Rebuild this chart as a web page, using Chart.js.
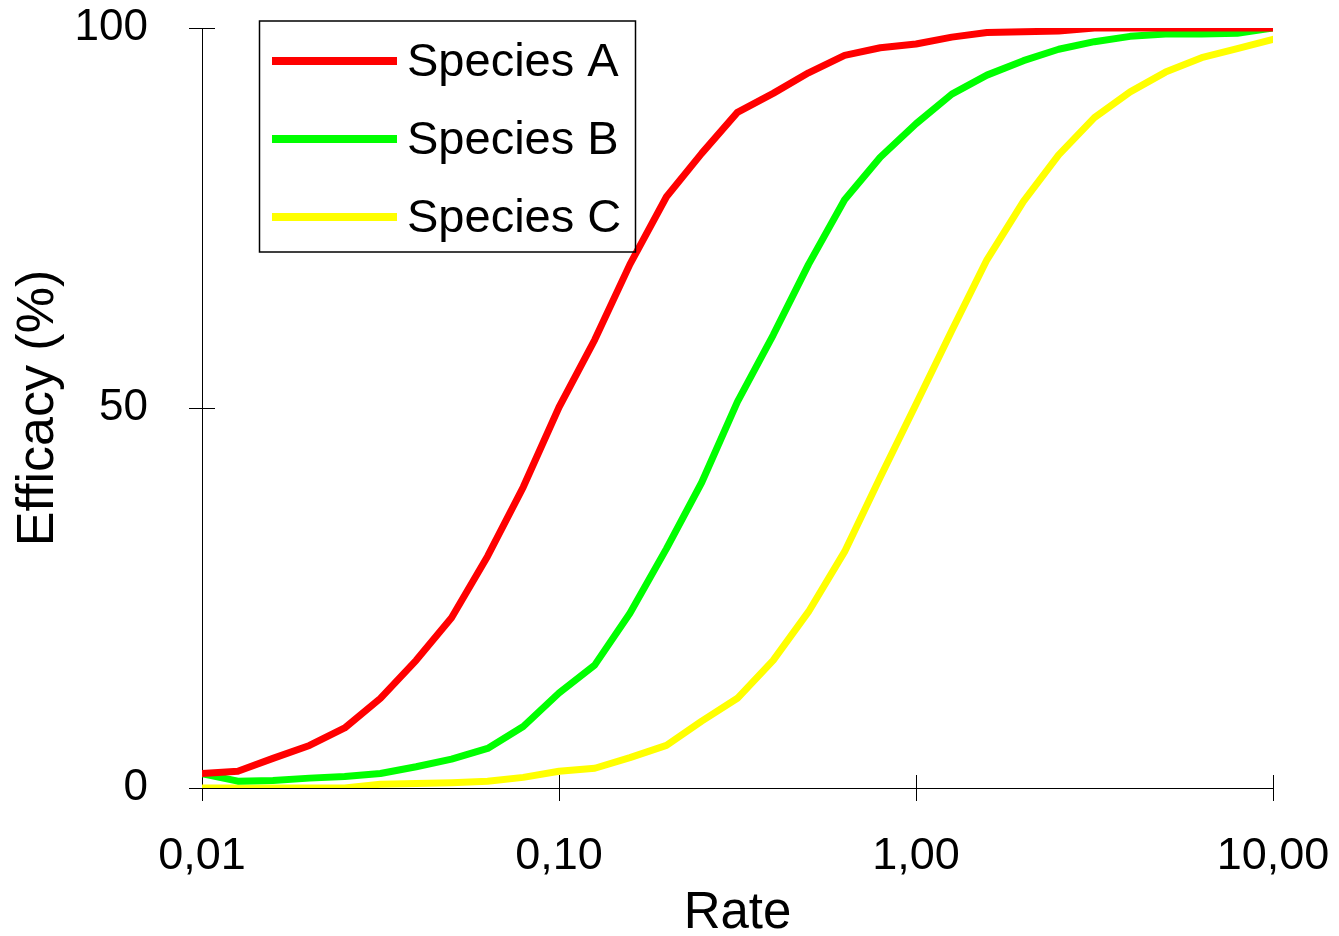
<!DOCTYPE html>
<html>
<head>
<meta charset="utf-8">
<script src="https://cdn.jsdelivr.net/npm/chart.js@4/dist/chart.umd.min.js"></script>
<style>
  html, body { margin: 0; padding: 0; background: #fff; }
  #wrap { width: 1339px; height: 936px; }
</style>
</head>
<body>
<div id="wrap"><canvas id="efficacy-chart" width="1339" height="936"></canvas></div>
<script>
// rate values (log axis)
var rates = [0.01, 0.0126, 0.0158, 0.02, 0.0251, 0.0316, 0.0398, 0.05, 0.0631, 0.0794,
	0.1, 0.126, 0.158, 0.2, 0.251, 0.316, 0.398, 0.5, 0.631, 0.794,
	1, 1.26, 1.58, 2, 2.51, 3.16, 3.98, 5, 6.31, 7.94, 10];

var speciesA = [1.9, 2.2, 3.9, 5.6, 7.9, 11.8, 16.8, 22.4, 30.5, 39.6,
	50.1, 59.0, 68.9, 77.8, 83.5, 88.9, 91.4, 94.1, 96.4, 97.4,
	97.9, 98.8, 99.4, 99.5, 99.6, 100, 100, 100, 100, 100, 100];

var speciesB = [1.9, 0.9, 1.0, 1.3, 1.5, 1.9, 2.8, 3.8, 5.2, 8.1,
	12.5, 16.2, 23.0, 31.5, 40.2, 50.8, 59.6, 68.9, 77.4, 83.0,
	87.4, 91.3, 93.8, 95.7, 97.2, 98.2, 98.9, 99.2, 99.2, 99.3, 100];

var speciesC = [0, 0, 0, 0, 0, 0.5, 0.6, 0.7, 0.9, 1.4,
	2.2, 2.6, 4.0, 5.6, 8.8, 11.8, 16.8, 23.2, 31.1, 40.9,
	50.5, 60.2, 69.5, 77.2, 83.3, 88.2, 91.6, 94.2, 96.1, 97.3, 98.5];

var seriesNames = ["Species A", "Species B", "Species C"];
var seriesColors = ["#ff0000", "#00ff00", "#ffff00"];

var xTicks = [0.01, 0.1, 1, 10];
var xTickLabels = ["0,01", "0,10", "1,00", "10,00"];
var yTicks = [0, 50, 100];
var yTickLabels = ["0", "50", "100"];

var FONT = "'Liberation Sans', Arial, sans-serif";

function points(values) {
	return rates.map(function(r, i) { return { x: r, y: values[i] }; });
}

// excel style "cross" tick marks, half outside and half inside the plot
var crossTicks = {
	id: "crossTicks",
	beforeDatasetsDraw: function(chart) {
		var ctx = chart.ctx, area = chart.chartArea;
		var xs = chart.scales.x, ys = chart.scales.y;
		ctx.save();
		ctx.strokeStyle = "#000";
		ctx.lineWidth = 1;
		ctx.beginPath();
		xTicks.forEach(function(v) {
			var px = Math.round(xs.getPixelForValue(v)) + 0.5;
			ctx.moveTo(px, area.bottom + 13);
			ctx.lineTo(px, area.bottom - 13);
		});
		yTicks.forEach(function(v) {
			var py = Math.round(ys.getPixelForValue(v)) + 0.5;
			ctx.moveTo(area.left - 13, py);
			ctx.lineTo(area.left + 13, py);
		});
		ctx.stroke();
		ctx.restore();
	}
};

// boxed legend in the upper left of the plot
var boxLegend = {
	id: "boxLegend",
	afterDraw: function(chart) {
		var ctx = chart.ctx;
		ctx.save();
		ctx.strokeStyle = "#000";
		ctx.lineWidth = 1.5;
		ctx.strokeRect(259.5, 21, 376, 231);
		ctx.font = "47px " + FONT;
		ctx.textBaseline = "middle";
		ctx.fillStyle = "#000";
		chart.data.datasets.forEach(function(ds, i) {
			var y = 61 + i * 78;
			ctx.strokeStyle = ds.borderColor;
			ctx.lineWidth = 8;
			ctx.beginPath();
			ctx.moveTo(272, y);
			ctx.lineTo(397, y);
			ctx.stroke();
			ctx.fillText(ds.label, 407, y + 2);
		});
		ctx.restore();
	}
};

try {
	new Chart(document.getElementById("efficacy-chart"), {
		type: "line",
		data: {
			datasets: [
				{ label: seriesNames[0], data: points(speciesA), borderColor: seriesColors[0] },
				{ label: seriesNames[1], data: points(speciesB), borderColor: seriesColors[1] },
				{ label: seriesNames[2], data: points(speciesC), borderColor: seriesColors[2] }
			]
		},
		options: {
			responsive: false,
			animation: false,
			layout: { padding: { top: 28, right: 66, left: 0, bottom: 0 } },
			elements: {
				line: { borderWidth: 7, tension: 0, fill: false, borderCapStyle: "round", borderJoinStyle: "round" },
				point: { radius: 0 }
			},
			plugins: {
				legend: { display: false },
				tooltip: { enabled: false }
			},
			scales: {
				x: {
					type: "logarithmic",
					min: 0.01,
					max: 10,
					afterBuildTicks: function(s) {
						s.ticks = xTicks.map(function(v) { return { value: v }; });
					},
					afterFit: function(s) { s.height = 148; },
					// tick marks come from crossTicks, the grid only spaces the labels
					grid: { drawOnChartArea: false, drawTicks: true, tickLength: 42, color: "rgba(0,0,0,0)" },
					border: { display: true, color: "#000", width: 1 },
					ticks: {
						padding: 0,
						maxRotation: 0,
						autoSkip: false,
						color: "#000",
						font: { family: FONT, size: 45 },
						callback: function(v) {
							var i = xTicks.indexOf(v);
							return i >= 0 ? xTickLabels[i] : "";
						}
					},
					title: {
						display: true,
						text: "Rate",
						color: "#000",
						font: { family: FONT, size: 51, lineHeight: 0.85 },
						padding: { top: 0, bottom: 0 }
					}
				},
				y: {
					min: 0,
					max: 100,
					afterBuildTicks: function(s) {
						s.ticks = yTicks.map(function(v) { return { value: v }; });
					},
					afterFit: function(s) { s.width = 202; },
					grid: { drawOnChartArea: false, drawTicks: true, tickLength: 54, color: "rgba(0,0,0,0)" },
					border: { display: true, color: "#000", width: 1 },
					ticks: {
						padding: 0,
						color: "#000",
						font: { family: FONT, size: 44 },
						callback: function(v) {
							var i = yTicks.indexOf(v);
							return i >= 0 ? yTickLabels[i] : "";
						}
					},
					title: {
						display: true,
						text: "Efficacy (%)",
						color: "#000",
						font: { family: FONT, size: 52, lineHeight: 1 },
						padding: { top: 13, bottom: 0 }
					}
				}
			}
		},
		plugins: [crossTicks, boxLegend]
	});
} catch(e) {
	console.error(e);
}
</script>
</body>
</html>
